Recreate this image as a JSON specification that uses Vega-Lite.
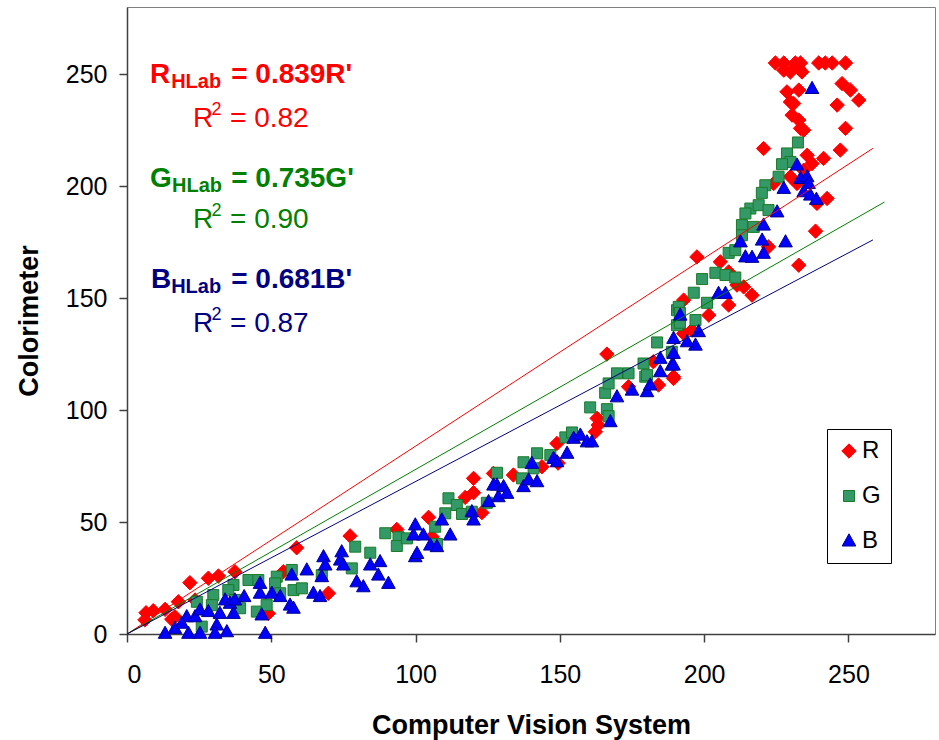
{
  "$schema": "https://vega.github.io/schema/vega-lite/v6.json",
  "width": 808,
  "height": 627,
  "autosize": {"type": "none"},
  "padding": {"left": 127, "top": 7, "right": 4, "bottom": 106},
  "background": "white",
  "config": {
    "font": "Liberation Sans",
    "view": {"stroke": "#808080", "strokeWidth": 1},
    "axis": {
      "grid": false,
      "domainColor": "#404040",
      "domainWidth": 1.5,
      "tickColor": "#404040",
      "tickWidth": 1.5,
      "tickSize": 8,
      "labelFont": "Liberation Sans",
      "labelFontSize": 25,
      "labelColor": "black",
      "titleFont": "Liberation Sans",
      "titleFontSize": 27,
      "titleFontWeight": "bold",
      "titleColor": "black"
    },
    "legend": {
      "labelFont": "Liberation Sans",
      "labelFontSize": 24,
      "labelColor": "black",
      "strokeColor": "black",
      "fillColor": "white",
      "padding": 10,
      "rowPadding": 21,
      "labelOffset": 1,
      "symbolSize": 400,
      "symbolStrokeWidth": 1
    }
  },
  "datasets": {
    "points": [
      {"series":"R","cvs":6.6,"col":9.5},{"series":"R","cvs":9.1,"col":10.4},{"series":"R","cvs":6.2,"col":6.3},{"series":"R","cvs":13.2,"col":11.0},{"series":"R","cvs":15.5,"col":6.6},{"series":"R","cvs":17.8,"col":14.4},{"series":"R","cvs":21.8,"col":22.9},{"series":"R","cvs":23.6,"col":15.2},{"series":"R","cvs":28.2,"col":24.9},{"series":"R","cvs":31.7,"col":25.9},{"series":"R","cvs":37.4,"col":27.8},{"series":"R","cvs":58.8,"col":38.5},{"series":"R","cvs":54.2,"col":27.8},{"series":"R","cvs":49.0,"col":9.2},{"series":"R","cvs":16.6,"col":7.7},{"series":"R","cvs":77.3,"col":43.8},{"series":"R","cvs":69.8,"col":18.2},{"series":"R","cvs":104.5,"col":52.1},{"series":"R","cvs":93.5,"col":46.7},{"series":"R","cvs":105.7,"col":43.4},{"series":"R","cvs":120.1,"col":69.5},{"series":"R","cvs":120.1,"col":63.1},{"series":"R","cvs":117.2,"col":61.0},{"series":"R","cvs":123.0,"col":54.2},{"series":"R","cvs":127.0,"col":71.7},{"series":"R","cvs":166.3,"col":125.0},{"series":"R","cvs":133.9,"col":71.0},{"series":"R","cvs":149.0,"col":85.1},{"series":"R","cvs":162.9,"col":96.3},{"series":"R","cvs":162.3,"col":90.3},{"series":"R","cvs":163.3,"col":93.3},{"series":"R","cvs":173.8,"col":110.4},{"series":"R","cvs":184.2,"col":111.2},{"series":"R","cvs":189.4,"col":114.1},{"series":"R","cvs":182.4,"col":121.6},{"series":"R","cvs":143.8,"col":74.7},{"series":"R","cvs":149.4,"col":76.3},{"series":"R","cvs":197.5,"col":168.4},{"series":"R","cvs":205.6,"col":166.2},{"series":"R","cvs":208.5,"col":161.7},{"series":"R","cvs":211.4,"col":155.8},{"series":"R","cvs":213.7,"col":155.0},{"series":"R","cvs":216.6,"col":151.3},{"series":"R","cvs":208.5,"col":146.9},{"series":"R","cvs":201.6,"col":142.4},{"series":"R","cvs":192.9,"col":149.1},{"series":"R","cvs":192.9,"col":134.2},{"series":"R","cvs":195.8,"col":135.7},{"series":"R","cvs":232.8,"col":164.7},{"series":"R","cvs":189.4,"col":114.9},{"series":"R","cvs":222.3,"col":172.9},{"series":"R","cvs":232.2,"col":201.2},
      {"series":"R","cvs":224.7,"col":255},{"series":"R","cvs":227.6,"col":255},{"series":"R","cvs":231.6,"col":255},{"series":"R","cvs":233.4,"col":255},{"series":"R","cvs":239.7,"col":255},{"series":"R","cvs":242.0,"col":255},{"series":"R","cvs":244.4,"col":255},{"series":"R","cvs":249.0,"col":255},
      {"series":"R","cvs":227.6,"col":251.8},{"series":"R","cvs":229.9,"col":251.0},{"series":"R","cvs":233.9,"col":251.0},{"series":"R","cvs":232.8,"col":252.5},{"series":"R","cvs":247.8,"col":245.8},{"series":"R","cvs":250.7,"col":242.9},{"series":"R","cvs":253.6,"col":238.4},{"series":"R","cvs":246.1,"col":236.2},{"series":"R","cvs":228.7,"col":242.1},{"series":"R","cvs":232.8,"col":242.9},{"series":"R","cvs":229.9,"col":237.6},{"series":"R","cvs":231.0,"col":236.9},{"series":"R","cvs":230.5,"col":231.7},{"series":"R","cvs":232.8,"col":229.5},{"series":"R","cvs":233.4,"col":225.8},{"series":"R","cvs":234.5,"col":225.0},{"series":"R","cvs":249.0,"col":225.8},{"series":"R","cvs":220.6,"col":216.8},{"series":"R","cvs":247.2,"col":216.1},{"series":"R","cvs":241.4,"col":212.4},{"series":"R","cvs":235.7,"col":213.8},{"series":"R","cvs":237.4,"col":210.1},{"series":"R","cvs":234.5,"col":207.1},{"series":"R","cvs":229.9,"col":204.2},{"series":"R","cvs":242.6,"col":194.5},{"series":"R","cvs":239.1,"col":192.3},{"series":"R","cvs":224.1,"col":201.2},{"series":"R","cvs":238.6,"col":179.9},
      {"series":"G","cvs":42.1,"col":24.1},{"series":"G","cvs":45.5,"col":24.1},{"series":"G","cvs":36.9,"col":21.9},{"series":"G","cvs":35.1,"col":19.6},{"series":"G","cvs":29.9,"col":17.4},{"series":"G","cvs":29.4,"col":12.9},{"series":"G","cvs":37.4,"col":15.2},{"series":"G","cvs":39.2,"col":11.5},{"series":"G","cvs":25.9,"col":3.3},{"series":"G","cvs":45.0,"col":10.0},{"series":"G","cvs":48.4,"col":12.9},{"series":"G","cvs":51.9,"col":25.6},{"series":"G","cvs":51.3,"col":22.6},{"series":"G","cvs":53.1,"col":18.2},{"series":"G","cvs":57.1,"col":28.6},{"series":"G","cvs":57.7,"col":19.6},{"series":"G","cvs":60.6,"col":20.4},{"series":"G","cvs":24.2,"col":14.4},{"series":"G","cvs":79.1,"col":39.0},{"series":"G","cvs":84.3,"col":36.3},{"series":"G","cvs":77.9,"col":29.3},{"series":"G","cvs":89.5,"col":45.0},{"series":"G","cvs":94.1,"col":43.2},{"series":"G","cvs":93.5,"col":39.3},{"series":"G","cvs":97.0,"col":42.7},{"series":"G","cvs":106.8,"col":47.9},{"series":"G","cvs":107.4,"col":40.2},{"series":"G","cvs":111.4,"col":60.6},{"series":"G","cvs":114.3,"col":57.6},{"series":"G","cvs":110.3,"col":53.9},{"series":"G","cvs":116.1,"col":53.6},{"series":"G","cvs":119.5,"col":54.6},{"series":"G","cvs":124.7,"col":58.6},{"series":"G","cvs":128.2,"col":72.0},{"series":"G","cvs":67.5,"col":26.3},{"series":"G","cvs":137.4,"col":76.7},{"series":"G","cvs":142.1,"col":80.7},{"series":"G","cvs":140.9,"col":74.0},{"series":"G","cvs":136.9,"col":69.5},{"series":"G","cvs":146.7,"col":79.9},{"series":"G","cvs":151.9,"col":87.8},{"series":"G","cvs":154.2,"col":90.0},{"series":"G","cvs":160.5,"col":101.2},{"series":"G","cvs":166.3,"col":100.4},{"series":"G","cvs":166.9,"col":97.3},{"series":"G","cvs":165.7,"col":107.7},{"series":"G","cvs":166.9,"col":111.9},{"series":"G","cvs":169.8,"col":116.4},{"series":"G","cvs":173.8,"col":116.4},{"series":"G","cvs":179.0,"col":120.8},{"series":"G","cvs":179.6,"col":114.9},{"series":"G","cvs":183.7,"col":130.2},{"series":"G","cvs":190.6,"col":144.6},{"series":"G","cvs":190.6,"col":137.9},{"series":"G","cvs":188.8,"col":126.0},{"series":"G","cvs":221.2,"col":200.4},{"series":"G","cvs":220.0,"col":197.0},{"series":"G","cvs":216.0,"col":190.0},{"series":"G","cvs":218.9,"col":191.5},{"series":"G","cvs":214.3,"col":187.8},{"series":"G","cvs":213.1,"col":182.6},{"series":"G","cvs":217.2,"col":181.8},{"series":"G","cvs":213.1,"col":178.1},{"series":"G","cvs":208.5,"col":170.2},{"series":"G","cvs":210.8,"col":171.4},{"series":"G","cvs":203.9,"col":161.3},{"series":"G","cvs":207.4,"col":160.3},{"series":"G","cvs":210.8,"col":159.2},{"series":"G","cvs":199.3,"col":158.5},{"series":"G","cvs":196.4,"col":152.4},{"series":"G","cvs":201.0,"col":147.9},{"series":"G","cvs":191.2,"col":146.1},{"series":"G","cvs":191.6,"col":143.4},{"series":"G","cvs":191.6,"col":139.0},{"series":"G","cvs":197.0,"col":140.2},{"series":"G","cvs":180.2,"col":115.6},{"series":"G","cvs":232.5,"col":219.5},{"series":"G","cvs":228.7,"col":214.6},{"series":"G","cvs":229.9,"col":210.8},{"series":"G","cvs":227.0,"col":209.8},{"series":"G","cvs":225.8,"col":204.2},{"series":"G","cvs":222.3,"col":189.3},
      {"series":"B","cvs":13.2,"col":0.3},{"series":"B","cvs":16.6,"col":2.5},{"series":"B","cvs":20.7,"col":7.7},{"series":"B","cvs":19.0,"col":4.8},{"series":"B","cvs":21.3,"col":0.3},{"series":"B","cvs":23.6,"col":7.7},{"series":"B","cvs":25.3,"col":10.7},{"series":"B","cvs":28.2,"col":10.0},{"series":"B","cvs":25.3,"col":0.3},{"series":"B","cvs":31.1,"col":4.0},{"series":"B","cvs":30.5,"col":0.3},{"series":"B","cvs":34.6,"col":1.0},{"series":"B","cvs":32.2,"col":9.2},{"series":"B","cvs":34.0,"col":15.2},{"series":"B","cvs":35.7,"col":13.7},{"series":"B","cvs":37.4,"col":15.2},{"series":"B","cvs":40.6,"col":16.7},{"series":"B","cvs":36.9,"col":9.2},{"series":"B","cvs":46.1,"col":22.6},{"series":"B","cvs":46.1,"col":18.2},{"series":"B","cvs":46.7,"col":8.5},{"series":"B","cvs":50.2,"col":18.2},{"series":"B","cvs":53.1,"col":16.7},{"series":"B","cvs":47.9,"col":0.3},{"series":"B","cvs":56.5,"col":12.9},{"series":"B","cvs":57.7,"col":11.5},{"series":"B","cvs":57.1,"col":26.3},{"series":"B","cvs":62.3,"col":28.6},{"series":"B","cvs":64.6,"col":18.2},{"series":"B","cvs":67.5,"col":25.6},{"series":"B","cvs":68.1,"col":34.5},{"series":"B","cvs":68.7,"col":30.8},{"series":"B","cvs":66.9,"col":16.7},{"series":"B","cvs":74.4,"col":36.7},{"series":"B","cvs":73.9,"col":33.0},{"series":"B","cvs":75.0,"col":30.8},{"series":"B","cvs":79.6,"col":23.3},{"series":"B","cvs":81.9,"col":21.1},{"series":"B","cvs":84.3,"col":30.8},{"series":"B","cvs":87.7,"col":32.3},{"series":"B","cvs":87.1,"col":26.3},{"series":"B","cvs":90.6,"col":22.6},{"series":"B","cvs":99.9,"col":48.7},{"series":"B","cvs":99.3,"col":44.2},{"series":"B","cvs":99.9,"col":34.5},{"series":"B","cvs":100.5,"col":36.0},{"series":"B","cvs":102.7,"col":44.2},{"series":"B","cvs":105.1,"col":39.7},{"series":"B","cvs":107.4,"col":39.0},{"series":"B","cvs":109.1,"col":50.9},{"series":"B","cvs":112.0,"col":44.2},{"series":"B","cvs":119.5,"col":54.6},{"series":"B","cvs":120.1,"col":50.9},{"series":"B","cvs":125.3,"col":59.1},{"series":"B","cvs":128.2,"col":66.5},{"series":"B","cvs":128.7,"col":61.3},{"series":"B","cvs":127.0,"col":66.5},{"series":"B","cvs":130.5,"col":65.8},{"series":"B","cvs":131.7,"col":62.8},{"series":"B","cvs":137.4,"col":65.8},{"series":"B","cvs":139.2,"col":68.8},{"series":"B","cvs":140.3,"col":76.2},{"series":"B","cvs":142.1,"col":68.0},{"series":"B","cvs":147.8,"col":78.4},{"series":"B","cvs":149.0,"col":76.9},{"series":"B","cvs":152.5,"col":80.7},{"series":"B","cvs":154.8,"col":87.4},{"series":"B","cvs":157.1,"col":88.8},{"series":"B","cvs":159.4,"col":85.8},{"series":"B","cvs":161.1,"col":85.8},{"series":"B","cvs":167.5,"col":94.8},{"series":"B","cvs":169.8,"col":105.9},{"series":"B","cvs":175.0,"col":108.9},{"series":"B","cvs":180.2,"col":108.2},{"series":"B","cvs":181.3,"col":111.2},{"series":"B","cvs":184.8,"col":117.1},{"series":"B","cvs":184.8,"col":123.1},{"series":"B","cvs":188.8,"col":120.1},{"series":"B","cvs":189.4,"col":132.0},{"series":"B","cvs":189.4,"col":125.3},{"series":"B","cvs":227.6,"col":199.0},{"series":"B","cvs":225.3,"col":188.5},{"series":"B","cvs":220.6,"col":182.6},{"series":"B","cvs":220.1,"col":175.9},{"series":"B","cvs":212.6,"col":175.1},{"series":"B","cvs":220.6,"col":170.0},{"series":"B","cvs":228.2,"col":175.1},{"series":"B","cvs":214.3,"col":168.4},{"series":"B","cvs":216.6,"col":168.2},{"series":"B","cvs":205.0,"col":152.1},{"series":"B","cvs":207.4,"col":152.1},{"series":"B","cvs":191.7,"col":142.4},{"series":"B","cvs":197.0,"col":129.0},{"series":"B","cvs":194.1,"col":130.5},{"series":"B","cvs":198.1,"col":135.0},{"series":"B","cvs":189.4,"col":120.1},{"series":"B","cvs":237.4,"col":243.6},{"series":"B","cvs":232.2,"col":209.4},{"series":"B","cvs":233.4,"col":203.4},{"series":"B","cvs":235.7,"col":204.2},{"series":"B","cvs":236.2,"col":201.2},{"series":"B","cvs":234.5,"col":197.5},{"series":"B","cvs":236.8,"col":196.0},{"series":"B","cvs":238.9,"col":194.1}
    ],
    "fits": [
      {"series":"R","cvs":0,"col":0},{"series":"R","cvs":258.5,"col":216.9},
      {"series":"G","cvs":0,"col":0},{"series":"G","cvs":262.5,"col":192.9},
      {"series":"B","cvs":0,"col":0},{"series":"B","cvs":258.5,"col":176.0}
    ],
    "notes": [
      {"series":"R","part":"main","cvs":8.0,"col":246.0,"text":"R"},
      {"series":"R","part":"sub","cvs":15.3,"col":246.0,"text":"HLab"},
      {"series":"R","part":"main","cvs":36.1,"col":246.0,"text":"= 0.839R'"},
      {"series":"R","part":"reg","cvs":22.9,"col":226.3,"text":"R"},
      {"series":"R","part":"sup","cvs":29.3,"col":226.3,"text":"2"},
      {"series":"R","part":"reg","cvs":35.7,"col":226.3,"text":"= 0.82"},
      {"series":"G","part":"main","cvs":8.0,"col":199.6,"text":"G"},
      {"series":"G","part":"sub","cvs":15.6,"col":199.6,"text":"HLab"},
      {"series":"G","part":"main","cvs":36.1,"col":199.6,"text":"= 0.735G'"},
      {"series":"G","part":"reg","cvs":22.9,"col":181.3,"text":"R"},
      {"series":"G","part":"sup","cvs":29.3,"col":181.3,"text":"2"},
      {"series":"G","part":"reg","cvs":35.7,"col":181.3,"text":"= 0.90"},
      {"series":"B","part":"main","cvs":8.3,"col":154.5,"text":"B"},
      {"series":"B","part":"sub","cvs":15.3,"col":154.5,"text":"HLab"},
      {"series":"B","part":"main","cvs":36.1,"col":154.5,"text":"= 0.681B'"},
      {"series":"B","part":"reg","cvs":22.9,"col":135.0,"text":"R"},
      {"series":"B","part":"sup","cvs":29.3,"col":135.0,"text":"2"},
      {"series":"B","part":"reg","cvs":35.7,"col":135.0,"text":"= 0.87"}
    ]
  },
  "encoding": {
    "x": {"field": "cvs", "type": "quantitative", "scale": {"domain": [0, 280], "nice": false}, "axis": {"values": [0, 50, 100, 150, 200, 250], "title": "Computer Vision System", "labelPadding": 20, "titlePadding": 25}},
    "y": {"field": "col", "type": "quantitative", "scale": {"domain": [0, 280], "nice": false}, "axis": {"values": [0, 50, 100, 150, 200, 250], "title": "Colorimeter", "labelPadding": 12, "titlePadding": 22}}
  },
  "layer": [
    {
      "data": {"name": "points"},
      "mark": {"type": "point", "filled": true, "opacity": 1, "strokeWidth": 1, "size": 400},
      "encoding": {
        "shape": {"field": "series", "type": "nominal", "scale": {"domain": ["R", "G", "B"], "range": ["M0,-0.72L0.72,0L0,0.72L-0.72,0Z", "M-0.55,-0.55H0.55V0.55H-0.55Z", "M0,-0.72L0.68,0.5L-0.68,0.5Z"]}, "legend": {"orient": "none", "legendX": 700, "legendY": 422, "title": null}},
        "fill": {"field": "series", "type": "nominal", "scale": {"domain": ["R", "G", "B"], "range": ["#FF0000", "#339966", "#0000FF"]}, "legend": {"orient": "none", "legendX": 700, "legendY": 422, "title": null}},
        "stroke": {"field": "series", "type": "nominal", "scale": {"domain": ["R", "G", "B"], "range": ["#FF0000", "#1A7A2A", "#000090"]}, "legend": {"orient": "none", "legendX": 700, "legendY": 422, "title": null}}
      }
    },
    {
      "data": {"name": "fits"},
      "transform": [{"filter": "datum.series === 'R'"}],
      "mark": {"type": "line", "color": "#FF0000", "strokeWidth": 1}
    },
    {
      "data": {"name": "fits"},
      "transform": [{"filter": "datum.series === 'G'"}],
      "mark": {"type": "line", "color": "#008000", "strokeWidth": 1}
    },
    {
      "data": {"name": "fits"},
      "transform": [{"filter": "datum.series === 'B'"}],
      "mark": {"type": "line", "color": "#000080", "strokeWidth": 1}
    },
    {
      "data": {"name": "notes"},
      "transform": [{"filter": "datum.part === 'main'"}],
      "mark": {"type": "text", "align": "left", "baseline": "alphabetic", "font": "Liberation Sans", "fontSize": 28, "fontWeight": "bold"},
      "encoding": {"text": {"field": "text"}, "color": {"field": "series", "type": "nominal", "scale": {"domain": ["R", "G", "B"], "range": ["#FF0000", "#008000", "#000080"]}, "legend": null}}
    },
    {
      "data": {"name": "notes"},
      "transform": [{"filter": "datum.part === 'sub'"}],
      "mark": {"type": "text", "align": "left", "baseline": "alphabetic", "font": "Liberation Sans", "fontSize": 20, "fontWeight": "bold", "dy": 5},
      "encoding": {"text": {"field": "text"}, "color": {"field": "series", "type": "nominal", "scale": {"domain": ["R", "G", "B"], "range": ["#FF0000", "#008000", "#000080"]}, "legend": null}}
    },
    {
      "data": {"name": "notes"},
      "transform": [{"filter": "datum.part === 'reg'"}],
      "mark": {"type": "text", "align": "left", "baseline": "alphabetic", "font": "Liberation Sans", "fontSize": 28},
      "encoding": {"text": {"field": "text"}, "color": {"field": "series", "type": "nominal", "scale": {"domain": ["R", "G", "B"], "range": ["#FF0000", "#008000", "#000080"]}, "legend": null}}
    },
    {
      "data": {"name": "notes"},
      "transform": [{"filter": "datum.part === 'sup'"}],
      "mark": {"type": "text", "align": "left", "baseline": "alphabetic", "font": "Liberation Sans", "fontSize": 18, "dy": -12},
      "encoding": {"text": {"field": "text"}, "color": {"field": "series", "type": "nominal", "scale": {"domain": ["R", "G", "B"], "range": ["#FF0000", "#008000", "#000080"]}, "legend": null}}
    }
  ]
}
